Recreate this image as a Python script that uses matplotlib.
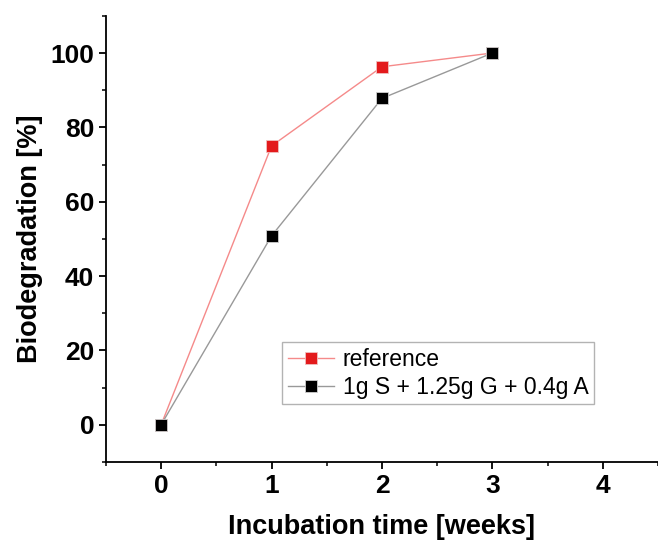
import matplotlib.pyplot as plt
from matplotlib.ticker import MultipleLocator

plt.rcParams['font.family'] = ['Liberation Sans', 'DejaVu Sans']

# data
weeks = [0, 1, 2, 3]
reference = [0, 75.0, 96.3, 100]
mixture = [0, 50.8, 87.8, 100]
labels = ['reference', '1g S + 1.25g G + 0.4g A']

fig = plt.figure(figsize=(6.58, 5.46), dpi=100)
ax = fig.add_axes([0.161, 0.154, 0.839, 0.817])

ax.plot(weeks, reference, color='#f58a8a', lw=1, marker='s', ms=8,
        mfc='#e31a1c', mec='#f0c0c0', mew=0.6, label=labels[0])
ax.plot(weeks, mixture, color='#999999', lw=1, marker='s', ms=8,
        mfc='black', mec='#d0d0d0', mew=0.6, label=labels[1])

ax.set_xlim(-0.5, 4.5)
ax.set_ylim(-10, 110)
ax.xaxis.set_major_locator(MultipleLocator(1))
ax.xaxis.set_minor_locator(MultipleLocator(0.5))
ax.yaxis.set_minor_locator(MultipleLocator(10))
ax.set_yticks([0, 20, 40, 60, 80, 100])

for s in ['top', 'right']:
    ax.spines[s].set_visible(False)
for s in ['left', 'bottom']:
    ax.spines[s].set_linewidth(1.3)

ax.tick_params(which='major', direction='out', length=5, width=1.3, labelsize=19)
ax.tick_params(which='minor', direction='out', length=3, width=1.1)
for t in ax.get_xticklabels() + ax.get_yticklabels():
    t.set_fontweight('bold')

ax.set_xlabel('Incubation time [weeks]', fontsize=19.5, fontweight='bold', labelpad=12)
ax.set_ylabel('Biodegradation [%]', fontsize=19.5, fontweight='bold', labelpad=5)

leg = ax.legend(loc='upper left', bbox_to_anchor=(0.319, 0.269), borderaxespad=0,
                fontsize=16.5, frameon=True, fancybox=False, handlelength=2.0,
                handletextpad=0.4, borderpad=0.25, labelspacing=0.22)
leg.get_frame().set_edgecolor('#a0a0a0')
leg.get_frame().set_linewidth(1)

fig.savefig('out.png', dpi=100)
